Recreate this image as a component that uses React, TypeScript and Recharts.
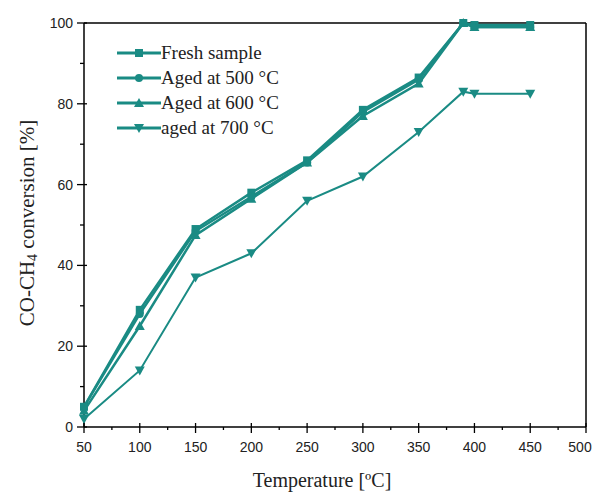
import React from "react";
import { LineChart, Line, XAxis, YAxis, ReferenceLine, Legend } from "recharts";

const temperatures = [50, 100, 150, 200, 250, 300, 350, 390, 400, 450];
const fresh = [5, 29, 49, 58, 66, 78.5, 86.5, 100, 99.5, 99.5];
const aged500 = [5, 28, 48.5, 57, 65.5, 78, 86, 100, 99, 99];
const aged600 = [4, 25, 47.5, 56.5, 65.5, 77, 85, 100, 99, 99];
const aged700 = [2, 14, 37, 43, 56, 62, 73, 83, 82.5, 82.5];

const xTicks = [50, 75, 100, 125, 150, 175, 200, 225, 250, 275, 300, 325, 350, 375, 400, 425, 450, 475, 500];
const yTicks = [0, 10, 20, 30, 40, 50, 60, 70, 80, 90, 100];

const seriesNames = ["Fresh sample", "Aged at 500 \u00B0C", "Aged at 600 \u00B0C", "aged at 700 \u00B0C"];
const seriesKeys = ["fresh", "aged500", "aged600", "aged700"];
const shapes = ["square", "circle", "triangle", "down"];

const data = temperatures.map((t, i) => ({
  t,
  fresh: fresh[i],
  aged500: aged500[i],
  aged600: aged600[i],
  aged700: aged700[i],
}));

const COLOR = "#1a8b84";

const Marker = ({ cx, cy, shape, size = 9 }: any) => {
  const r = size / 2;
  if (shape === "square") return <rect x={cx - r} y={cy - r} width={size} height={size} fill={COLOR} />;
  if (shape === "circle") return <circle cx={cx} cy={cy} r={r} fill={COLOR} />;
  if (shape === "triangle")
    return <polygon points={`${cx},${cy - r - 1} ${cx + r + 1},${cy + r} ${cx - r - 1},${cy + r}`} fill={COLOR} />;
  return <polygon points={`${cx},${cy + r + 1} ${cx + r + 1},${cy - r} ${cx - r - 1},${cy - r}`} fill={COLOR} />;
};

const XTick = (props: any) => {
  const { x, y, payload } = props;
  const major = payload.value % 50 === 0;
  return (
    <g>
      <line x1={x} x2={x} y1={major ? y - 4 : y} y2={y + (major ? 6 : 3)} stroke="#000" strokeWidth={1.3} />
      {major && (
        <text x={payload.value === 500 ? x - 6 : x} y={y + 25} textAnchor="middle" fontFamily="Liberation Sans, Arial" fontSize={14} fill="#222">
          {payload.value}
        </text>
      )}
    </g>
  );
};

const YTick = (props: any) => {
  const { x, y, payload } = props;
  const major = payload.value % 20 === 0;
  return (
    <g>
      <line x1={major ? x - 7 : x - 4} x2={major ? x + 3 : x} y1={y} y2={y} stroke="#000" strokeWidth={1.3} />
      {major && (
        <text x={x - 11} y={y + 5} textAnchor="end" fontFamily="Liberation Sans, Arial" fontSize={14} fill="#222">
          {payload.value}
        </text>
      )}
    </g>
  );
};

const LegendContent = () => (
  <div style={{ fontFamily: "Liberation Serif, Times New Roman, serif", fontSize: 19, color: "#222" }}>
    {seriesNames.map((n, i) => (
      <div key={n} style={{ display: "flex", alignItems: "center", height: 25 }}>
        <svg width={44} height={14}>
          <line x1={0} x2={44} y1={7} y2={7} stroke={COLOR} strokeWidth={3} />
          <Marker cx={22} cy={7} shape={shapes[i]} size={8} />
        </svg>
        <span style={{ marginLeft: 0, whiteSpace: "nowrap" }}>{n}</span>
      </div>
    ))}
  </div>
);

export default function App() {
  return (
    <LineChart width={593} height={484} data={data} margin={{ top: 15, right: 15, left: 16, bottom: 25 }}>
      <XAxis
        dataKey="t"
        type="number"
        domain={[50, 500]}
        ticks={xTicks}
        interval={0}
        tick={<XTick />}
        tickLine={false}
        tickSize={0}
        tickMargin={0}
        height={40}
        axisLine={{ stroke: "#000", strokeWidth: 1.5 }}
      />
      <YAxis
        type="number"
        domain={[0, 100]}
        ticks={yTicks}
        interval={0}
        tick={<YTick />}
        tickLine={false}
        tickSize={0}
        tickMargin={0}
        width={60}
        axisLine={{ stroke: "#000", strokeWidth: 1.5 }}
      />
      <ReferenceLine y={100} stroke="#000" strokeWidth={1.5} />
      <ReferenceLine x={500} stroke="#000" strokeWidth={1.5} />
      <Legend
        content={<LegendContent />}
        layout="horizontal"
        verticalAlign="middle"
        align="center"
        wrapperStyle={{ position: "absolute", left: 109, top: 32, width: 240 }}
      />
      {seriesKeys.map((k, i) => (
        <Line
          key={k}
          dataKey={k}
          name={seriesNames[i]}
          stroke={COLOR}
          strokeWidth={k === "aged700" ? 2 : 2.5}
          isAnimationActive={false}
          dot={(p: any) => <Marker key={`${k}-${p.index}`} cx={p.cx} cy={p.cy} shape={shapes[i]} size={8} />}
          activeDot={false}
        />
      ))}
      <text x={19} y={215} transform="rotate(-90 19 215)" textAnchor="middle" dominantBaseline="central"
        fontFamily="Liberation Serif, Times New Roman, serif" fontSize={21} fill="#222">
        CO-CH<tspan fontSize={14} dy={5}>4</tspan><tspan dy={-5}> conversion [%]</tspan>
      </text>
      <text x={314} y={479} textAnchor="middle"
        fontFamily="Liberation Serif, Times New Roman, serif" fontSize={20} fill="#222">
        Temperature [ºC]
      </text>
    </LineChart>
  );
}
